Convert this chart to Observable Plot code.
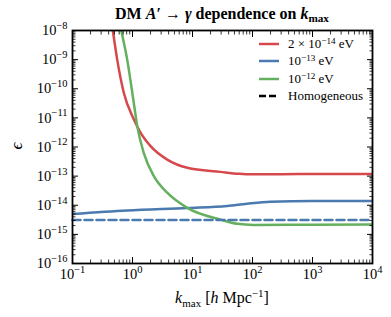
<!DOCTYPE html>
<html><head><meta charset="utf-8">
<script src="https://cdn.jsdelivr.net/npm/d3@7"></script>
<script src="https://cdn.jsdelivr.net/npm/@observablehq/plot@0.6"></script>
<style>
body{margin:0;background:#fff;font-family:"Liberation Serif",serif;}
#wrap{position:relative;width:391px;height:317px;overflow:hidden;}
#title{position:absolute;left:222px;top:4px;transform:translateX(-50%);white-space:nowrap;font-size:16px;line-height:20px;font-weight:bold;z-index:2;}
sub{font-size:0.7em;vertical-align:-0.25em;line-height:0;}
sup{font-size:0.7em;vertical-align:0.45em;line-height:0;}
#legend{position:absolute;left:258px;top:35px;font-size:13px;z-index:2;}
#legend .row{height:17.5px;display:flex;align-items:center;white-space:nowrap;}
#legend svg{margin-right:8px;}
</style>
</head><body>
<div id="wrap">
<div id="title">DM <i>A</i>′ → <i>γ</i> dependence on <i>k</i><sub>max</sub></div>
<div id="chart"></div>
<div id="legend"></div>
</div>
<script>
// ---- data ----
const seriesNames = ["2 × 10^−14 eV", "10^−13 eV", "10^−12 eV"];
const seriesColors = ["#d6484c", "#4a7ab0", "#64b05e"];

const redK   = [0.447, 0.47, 0.556, 0.716, 1.05, 1.36, 2.0, 3.79, 8.2, 29.3, 60, 100, 300, 1000, 10000];
const redEps = [2e-8, 1e-8, 1.0e-9, 7.3e-11, 8.9e-12, 3.1e-12, 1.07e-12, 3.7e-13, 1.94e-13, 1.4e-13, 1.2e-13, 1.15e-13, 1.17e-13, 1.18e-13, 1.18e-13];

const blueK   = [0.1, 0.82, 8.2, 37.8, 81, 200, 1000, 10000];
const blueEps = [5.0e-15, 6.6e-15, 8.1e-15, 9.5e-15, 1.13e-14, 1.32e-14, 1.4e-14, 1.4e-14];

const greenK   = [0.6, 0.65, 0.816, 1.05, 1.2, 1.54, 2.27, 3.79, 8.2, 29.3, 55.6, 104, 1000, 10000];
const greenEps = [2.2e-8, 1e-8, 1e-9, 3.3e-11, 5.2e-12, 6.3e-13, 1e-13, 2.7e-14, 8.1e-15, 3.2e-15, 2.3e-15, 2.1e-15, 2.15e-15, 2.2e-15];

const homoK   = [0.1, 10000];
const homoEps = [3.1e-15, 3.1e-15];
const homoName = "Homogeneous";

const xTickExp = [-1, 0, 1, 2, 3, 4];
const yTickExp = [-16, -15, -14, -13, -12, -11, -10, -9, -8];

// ---- build tables ----
const allK = [redK, blueK, greenK];
const allEps = [redEps, blueEps, greenEps];
const rows = allK.flatMap((ks, s) => ks.map((k, i) => ({k, eps: allEps[s][i], s})));
const homo = homoK.map((k, i) => ({k, eps: homoEps[i]}));

const xMajor = xTickExp.map(e => 10 ** e);
const yMajor = yTickExp.map(e => 10 ** e);
const minorOf = exps => exps.slice(0, -1).flatMap(e => d3.range(2, 10).map(m => m * 10 ** e));
const xMinor = minorOf(xTickExp);
const yMinor = minorOf(yTickExp);
const fmt = d => "10^" + Math.round(Math.log10(d)).toString().replace("-", "−");
const blank = () => "";

const M = 6, m = 3.5;
const chart = Plot.plot({
  width: 391, height: 317,
  marginTop: 30, marginLeft: 72, marginRight: 19, marginBottom: 54,
  x: {type: "log", domain: [0.1, 1e4], label: null},
  y: {type: "log", domain: [1e-16, 1e-8], label: null},
  style: {fontFamily: "Liberation Serif", fontSize: "14.5px", color: "black", background: "white"},
  marks: [
    Plot.line(rows, {x: "k", y: "eps", z: "s", stroke: d => seriesColors[d.s], strokeWidth: 2.5, curve: "monotone-x", clip: true}),
    Plot.line(homo, {x: "k", y: "eps", stroke: seriesColors[1], strokeWidth: 2.5, strokeDasharray: "8,4"}),
    // labels
    Plot.axisY(yMajor, {anchor: "left", tickSize: 0, tickPadding: 5, tickFormat: fmt, label: null}),
    Plot.axisX(xMajor, {anchor: "bottom", tickSize: 0, tickPadding: 5, tickFormat: fmt, label: null}),
    // inward ticks, major
    Plot.axisY(yMajor, {anchor: "left", tickSize: M, dx: M, tickFormat: blank, label: null}),
    Plot.axisY(yMajor, {anchor: "right", tickSize: M, dx: -M, tickFormat: blank, label: null}),
    Plot.axisX(xMajor, {anchor: "bottom", tickSize: M, dy: -M, tickFormat: blank, label: null}),
    Plot.axisX(xMajor, {anchor: "top", tickSize: M, dy: M, tickFormat: blank, label: null}),
    // minor
    Plot.axisY(yMinor, {anchor: "left", tickSize: m, dx: m, tickFormat: blank, label: null, strokeWidth: 0.8}),
    Plot.axisY(yMinor, {anchor: "right", tickSize: m, dx: -m, tickFormat: blank, label: null, strokeWidth: 0.8}),
    Plot.axisX(xMinor, {anchor: "bottom", tickSize: m, dy: -m, tickFormat: blank, label: null, strokeWidth: 0.8}),
    Plot.axisX(xMinor, {anchor: "top", tickSize: m, dy: m, tickFormat: blank, label: null, strokeWidth: 0.8}),
    Plot.frame({stroke: "black", strokeWidth: 1.8})
  ]
});
document.getElementById("chart").appendChild(chart);

// superscripts in tick labels
const svg = d3.select(chart);
svg.selectAll("text").each(function() {
  const t = this.textContent;
  if (t.includes("^")) {
    const [b, e] = t.split("^");
    const el = d3.select(this);
    el.text(b);
    el.append("tspan").attr("font-size", "0.72em").attr("dy", "-0.6em").text(e);
  }
});

// axis titles
const xl = svg.append("text").attr("x", 222).attr("y", 303).attr("text-anchor", "middle")
  .attr("font-size", 16).attr("font-family", "Liberation Serif").attr("fill", "black");
xl.append("tspan").attr("font-style", "italic").text("k");
xl.append("tspan").attr("font-size", 11).attr("dy", 4).text("max");
xl.append("tspan").attr("dy", -4).text(" [");
xl.append("tspan").attr("font-style", "italic").text("h");
xl.append("tspan").text(" Mpc");
xl.append("tspan").attr("font-size", 11).attr("dy", -6).text("−1");
xl.append("tspan").attr("dy", 6).text("]");

svg.append("text").attr("transform", "translate(22,146) rotate(-90)").attr("text-anchor", "middle")
  .attr("font-size", 17).attr("font-style", "italic").attr("font-family", "Liberation Serif").attr("fill", "black").text("ϵ");

// legend
const sup = s => s.replace(/\^(\S+)/, "<sup>$1</sup>");
const leg = document.getElementById("legend");
seriesNames.forEach((n, i) => {
  leg.insertAdjacentHTML("beforeend",
    `<div class="row"><svg width="22" height="6"><line x1="1" x2="21" y1="3" y2="3" stroke="${seriesColors[i]}" stroke-width="2.5"/></svg><span>${sup(n)}</span></div>`);
});
leg.insertAdjacentHTML("beforeend",
  `<div class="row"><svg width="22" height="6"><line x1="1" x2="21" y1="3" y2="3" stroke="black" stroke-width="2.5" stroke-dasharray="7,3"/></svg><span>${homoName}</span></div>`);
</script>
</body></html>
